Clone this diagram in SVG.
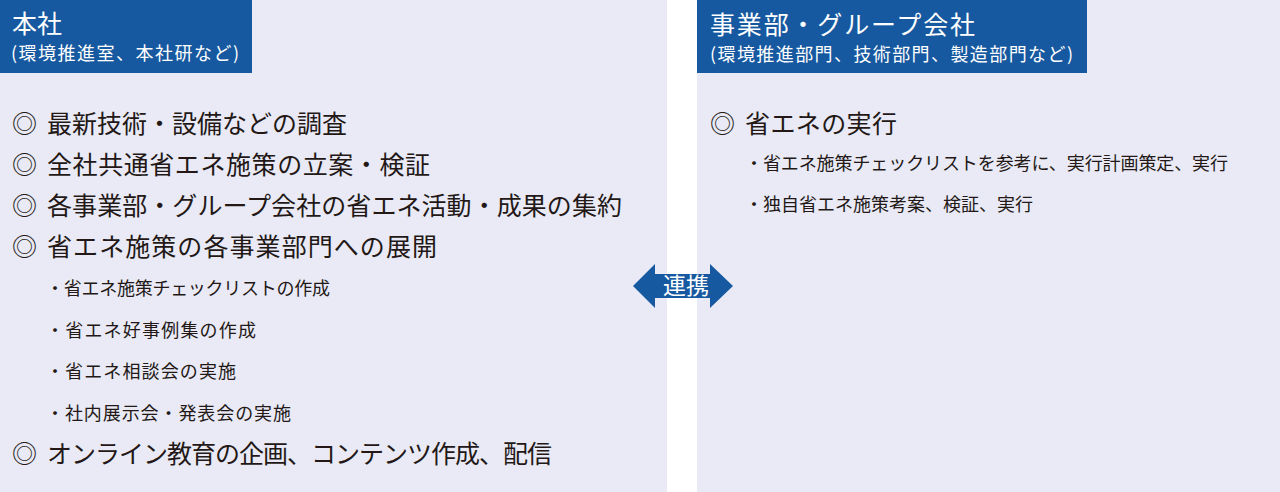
<svg xmlns="http://www.w3.org/2000/svg" width="1280" height="492" viewBox="0 0 1280 492">
<style>
.panel{fill:#E9EAF5}
.hdr{fill:#1759A0}
.t{font-family:"Noto Sans CJK JP","Noto Sans",sans-serif;fill:#231815}
.w{font-family:"Noto Sans CJK JP","Noto Sans",sans-serif;fill:#FFFFFF}
.m{font-size:25px}
.s{font-size:18px}
.h1{font-size:25px}
.h2{font-size:18px}
</style>
<rect width="1280" height="492" fill="#FFFFFF"/>
<g id="honsha">
<rect class="panel" x="0" y="0" width="667" height="492"/>
<rect class="hdr" x="0" y="0" width="252" height="73"/>
<text class="w h1" x="12" y="33">本社</text>
<text class="w h2" x="11" y="60" textLength="228">(環境推進室、本社研など)</text>
<text class="t m" x="12" y="133">◎</text>
<text class="t m" x="47" y="133" textLength="300">最新技術・設備などの調査</text>
<text class="t m" x="12" y="174">◎</text>
<text class="t m" x="47" y="174" textLength="383">全社共通省エネ施策の立案・検証</text>
<text class="t m" x="12" y="215">◎</text>
<text class="t m" x="47" y="215" textLength="575">各事業部・グループ会社の省エネ活動・成果の集約</text>
<text class="t m" x="12" y="256">◎</text>
<text class="t m" x="47" y="256" textLength="390">省エネ施策の各事業部門への展開</text>
<text class="t s" x="46" y="295" textLength="284">・省エネ施策チェックリストの作成</text>
<text class="t s" x="46" y="337" textLength="210">・省エネ好事例集の作成</text>
<text class="t s" x="46" y="378" textLength="190">・省エネ相談会の実施</text>
<text class="t s" x="46" y="420" textLength="245">・社内展示会・発表会の実施</text>
<text class="t m" x="12" y="463">◎</text>
<text class="t m" x="47" y="463" textLength="505">オンライン教育の企画、コンテンツ作成、配信</text>
</g>
<g id="jigyobu">
<rect class="panel" x="697" y="0" width="583" height="492"/>
<rect class="hdr" x="697" y="0" width="390" height="73"/>
<text class="w h1" x="710" y="34" textLength="265">事業部・グループ会社</text>
<text class="w h2" x="710" y="61" textLength="363">(環境推進部門、技術部門、製造部門など)</text>
<text class="t m" x="710" y="133">◎</text>
<text class="t m" x="745" y="133" textLength="152">省エネの実行</text>
<text class="t s" x="745" y="170" textLength="483">・省エネ施策チェックリストを参考に、実行計画策定、実行</text>
<text class="t s" x="745" y="211" textLength="288">・独自省エネ施策考案、検証、実行</text>
</g>
<g id="connectors">
<polygon id="renkei-arrow" fill="#1759A0" points="633,286 655,264 655,274 710,274 710,264 733,286 710,308 710,298 655,298 655,308"/>
<text class="w" x="686" y="294" font-size="23" text-anchor="middle">連携</text>
</g>
</svg>
